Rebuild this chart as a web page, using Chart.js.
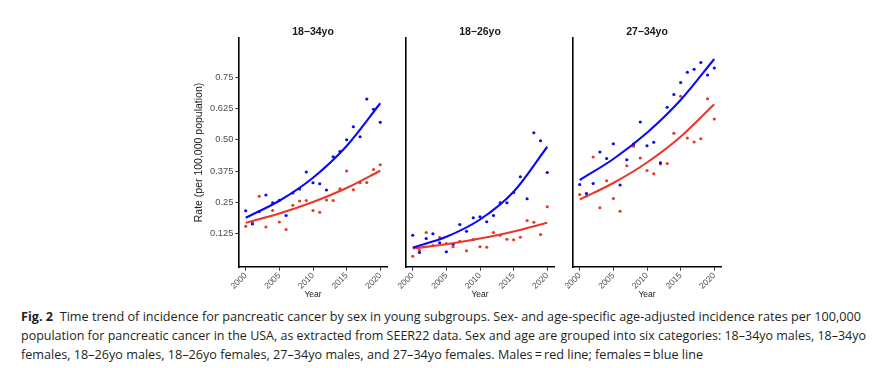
<!DOCTYPE html>
<html><head><meta charset="utf-8">
<script src="https://cdn.jsdelivr.net/npm/chart.js@4.4.1/dist/chart.umd.min.js"></script>
<style>
html,body{margin:0;padding:0;background:#fff;width:896px;height:368px;overflow:hidden;position:relative}
canvas{position:absolute;top:0}
.cap{position:absolute;left:21px;font-family:'Open Sans',sans-serif;font-size:13px;line-height:19px;color:#231f20;white-space:nowrap;transform-origin:0 0}
.cap b{font-weight:700}
</style></head><body>
<canvas id="c1" width="228" height="300" style="left:169px"></canvas>
<canvas id="c2" width="228" height="300" style="left:336px"></canvas>
<canvas id="c3" width="228" height="300" style="left:503px"></canvas>
<div class="cap" data-w="840" style="top:307px"><b>Fig. 2</b>&nbsp; Time trend of incidence for pancreatic cancer by sex in young subgroups. Sex- and age-specific age-adjusted incidence rates per 100,000</div>
<div class="cap" data-w="845" style="top:326px">population for pancreatic cancer in the USA, as extracted from SEER22 data. Sex and age are grouped into six categories: 18–34yo males, 18–34yo</div>
<div class="cap" data-w="682" style="top:345px">females, 18–26yo males, 18–26yo females, 27–34yo males, and 27–34yo females. Males&#8201;=&#8201;red line; females&#8201;=&#8201;blue line</div>
<script>
// ---- data ----
const years = [2000,2001,2002,2003,2004,2005,2006,2007,2008,2009,2010,2011,2012,2013,2014,2015,2016,2017,2018,2019,2020];
const fitYears = [2000,2005,2010,2015,2020];
const xTicks = [2000,2005,2010,2015,2020];
const yTicks = [0.125,0.25,0.375,0.5,0.625,0.75];
const yTickLabels = ['0.125','0.25','0.375','0.50','0.625','0.75'];
const panelTitles = ['18\u221234yo','18\u221226yo','27\u221234yo'];

// 18-34yo
const p1Blue = [0.216,0.163,0.213,0.279,0.248,0.258,0.197,0.287,0.303,0.371,0.328,0.324,0.299,0.432,0.453,0.500,0.552,0.512,0.663,0.622,0.570];
const p1Red  = [0.154,0.172,0.274,0.151,0.217,0.171,0.141,0.238,0.255,0.257,0.217,0.210,0.259,0.257,0.304,0.375,0.300,0.328,0.329,0.381,0.400];
const p1BlueFit = [0.188,0.256,0.348,0.475,0.646];
const p1RedFit  = [0.168,0.205,0.251,0.307,0.376];
// 18-26yo
const p2Blue = [0.118,0.049,0.105,0.124,0.088,0.052,0.082,0.161,0.134,0.188,0.192,0.172,0.197,0.248,0.248,0.289,0.352,0.264,0.528,0.496,0.369];
const p2Red  = [0.034,0.058,0.129,0.077,0.109,0.085,0.072,0.094,0.056,0.101,0.072,0.070,0.129,0.118,0.102,0.100,0.110,0.177,0.170,0.121,0.232];
const p2BlueFit = [0.069,0.112,0.181,0.292,0.472];
const p2RedFit  = [0.065,0.082,0.105,0.133,0.168];
// 27-34yo
const p3Blue = [0.321,0.285,0.325,0.451,0.425,0.484,0.319,0.420,0.483,0.571,0.476,0.490,0.408,0.630,0.681,0.729,0.770,0.782,0.809,0.759,0.787];
const p3Red  = [0.281,0.275,0.431,0.228,0.336,0.265,0.214,0.396,0.474,0.427,0.377,0.364,0.403,0.405,0.526,0.674,0.507,0.491,0.504,0.664,0.583];
const p3BlueFit = [0.339,0.423,0.528,0.659,0.823];
const p3RedFit  = [0.261,0.327,0.409,0.512,0.642];

// ---- styling ----
const FONT = "'Liberation Sans', Arial, sans-serif";
const BLUE = '#0a0af5';
const RED = '#e8372c';

function pts(xs, ys){ return xs.map((x,i)=>({x:x, y:ys[i]})); }

function makePanel(id, title, blue, red, blueFit, redFit, first){
  const yScale = {
    type:'linear', min:-0.009, max:0.907,
    afterBuildTicks: s => { s.ticks = yTicks.map(v => ({value:v})); },
    afterFit: s => { s.width = 70; },
    ticks:{ display:first, font:{family:FONT,size:9.3}, color:'#4d4d4d', padding:2,
      callback: v => { const i = yTicks.findIndex(t => Math.abs(t-v) < 1e-6); return i>=0 ? yTickLabels[i] : ''; } },
    grid:{ display:first, drawOnChartArea:false, drawTicks:true, tickLength:3.7, tickColor:'#333', tickWidth:1 },
    border:{ display:true, color:'#000', width:1.6 },
    title:{ display:first, text:'Rate (per 100,000 population)', font:{family:FONT,size:10.5,lineHeight:1.2}, color:'#1a1a1a', padding:{top:24.2,bottom:0} }
  };
  new Chart(document.getElementById(id), {
    type:'scatter',
    data:{ datasets:[
      { type:'line', data:pts(fitYears, blueFit), borderColor:BLUE, borderWidth:2.1, pointRadius:0, cubicInterpolationMode:'monotone', fill:false },
      { type:'line', data:pts(fitYears, redFit), borderColor:RED, borderWidth:2.1, pointRadius:0, cubicInterpolationMode:'monotone', fill:false },
      { data:pts(years, blue), pointBackgroundColor:BLUE, pointBorderWidth:0, pointRadius:1.6 },
      { data:pts(years, red), pointBackgroundColor:RED, pointBorderWidth:0, pointRadius:1.6 }
    ]},
    options:{
      responsive:false, animation:false, events:[],
      layout:{ padding:{left:0,right:10,top:0,bottom:0} },
      plugins:{
        legend:{display:false}, tooltip:{enabled:false},
        title:{ display:true, text:title, fullSize:false, font:{family:FONT,size:10.5,weight:'bold',lineHeight:1.2}, color:'#1a1a1a', padding:{top:25.5,bottom:-0.1} }
      },
      scales:{
        x:{ type:'linear', min:1999, max:2021,
          afterBuildTicks: s => { s.ticks = xTicks.map(v => ({value:v})); },
          afterFit: s => { s.height = 33; },
          ticks:{ minRotation:45, maxRotation:45, autoSkip:false, font:{family:FONT,size:8.5}, color:'#4d4d4d', padding:0, callback: v => String(v) },
          grid:{ display:true, drawOnChartArea:false, drawTicks:true, tickLength:3.7, tickColor:'#333', tickWidth:1 },
          border:{ display:true, color:'#000', width:1.6 },
          title:{ display:true, text:'Year', font:{family:FONT,size:8.5,lineHeight:1.2}, color:'#1a1a1a', padding:{top:0,bottom:0.3} }
        },
        y: yScale
      }
    }
  });
}

makePanel('c1', panelTitles[0], p1Blue, p1Red, p1BlueFit, p1RedFit, true);
makePanel('c2', panelTitles[1], p2Blue, p2Red, p2BlueFit, p2RedFit, false);
makePanel('c3', panelTitles[2], p3Blue, p3Red, p3BlueFit, p3RedFit, false);

// fit caption lines to measured widths
document.querySelectorAll('.cap').forEach(el => {
  const w = el.getBoundingClientRect().width;
  const target = parseFloat(el.dataset.w);
  el.style.transform = 'scaleX(' + (target / w) + ')';
});
</script>
</body></html>
